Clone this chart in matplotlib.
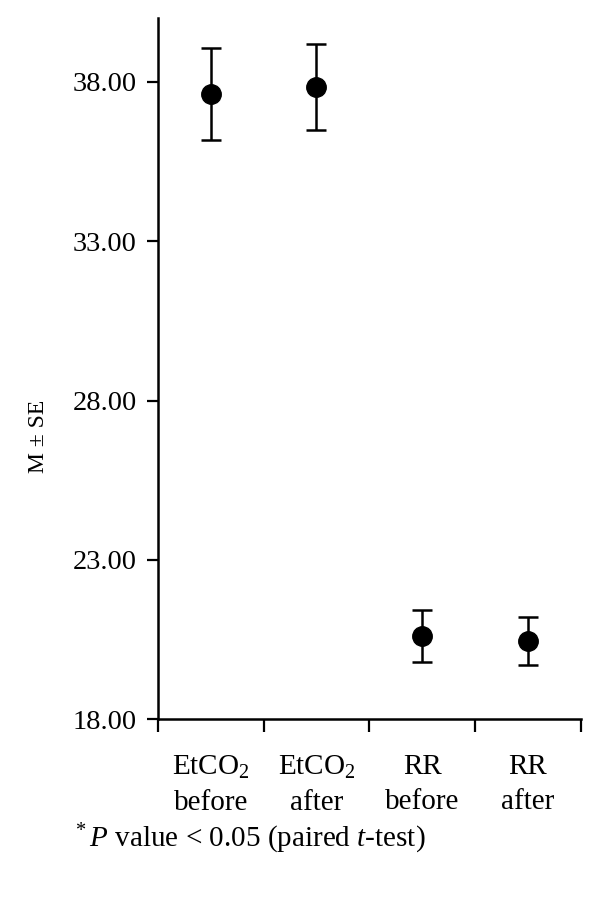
import matplotlib
matplotlib.use("Agg")
import matplotlib.pyplot as plt
import numpy as np

plt.rcParams['font.family'] = ['Liberation Serif', 'DejaVu Serif']
plt.rcParams['mathtext.fontset'] = 'custom'
plt.rcParams['mathtext.rm'] = 'Liberation Serif'
plt.rcParams['mathtext.it'] = 'Liberation Serif:italic'

# data
categories = ["EtCO$_2$\nbefore", "EtCO$_2$\nafter", "RR\nbefore", "RR\nafter"]
means = [37.62, 37.84, 20.61, 20.45]
se = [1.45, 1.36, 0.81, 0.76]
y_ticks = [18, 23, 28, 33, 38]

fig = plt.figure(figsize=(6, 9.08), dpi=100)
ax = fig.add_axes([0.263, 0.208, 0.705, 0.772])

x = np.arange(len(categories)) + 0.5
ax.errorbar(x, means, yerr=se, fmt='o', color='black', markersize=14,
            capsize=7.5, capthick=1.8, elinewidth=1.8)

ax.set_xlim(0, len(categories))
ax.set_ylim(18, 40)
ax.set_yticks(y_ticks)
ax.set_yticklabels(["%.2f" % v for v in y_ticks], fontsize=20.5)

ax.set_xticks(np.arange(len(categories) + 1))
ax.set_xticklabels([])
ax.set_xticks(x, minor=True)
ax.set_xticklabels(categories, minor=True, fontsize=21, linespacing=1.45)
ax.tick_params(axis='x', which='minor', length=0, pad=25)
ax.tick_params(axis='x', which='major', length=9, width=1.6, direction='out')
ax.tick_params(axis='y', length=8, width=1.6, pad=7)

for s in ['top', 'right']:
    ax.spines[s].set_visible(False)
for s in ['left', 'bottom']:
    ax.spines[s].set_linewidth(1.8)

fig.text(38 / 600, 1 - 436 / 908, "M ± SE", fontsize=17, rotation=90,
         ha='center', va='center')

fig.text(75 / 600, 1 - 839 / 908,
         r"$^{*}\,\it{P}$ value < 0.05 (paired $\it{t}$-test)",
         fontsize=21, ha='left', va='center')

fig.savefig("out.png", dpi=100)
